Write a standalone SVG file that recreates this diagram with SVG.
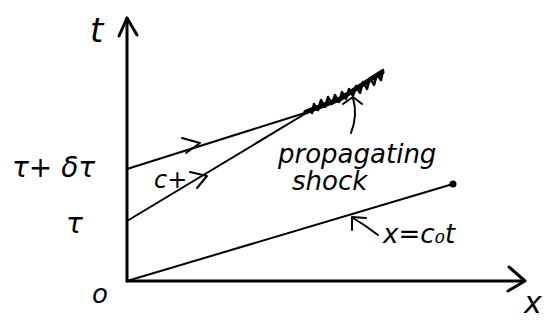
<svg xmlns="http://www.w3.org/2000/svg" width="553" height="320" viewBox="0 0 553 320">
<style>
.ax{stroke:#000;stroke-width:3;fill:none;stroke-linecap:round;stroke-linejoin:round}
.ln{stroke:#000;stroke-width:2;fill:none;stroke-linecap:round;stroke-linejoin:round}
.tx{font-family:"DejaVu Sans","Liberation Sans",sans-serif;fill:#000;font-style:italic}
</style>
<rect width="553" height="320" fill="#fff"/>
<g id="axes">
<path class="ax" d="M127,281 L127,18"/>
<path class="ax" d="M119,36 L127,18 L137,35"/>
<path class="ax" d="M127,281 L523,281"/>
<path class="ax" d="M509,267 L525,281 L508,291"/>
<text class="tx" x="90" y="42" font-size="34">t</text>
<text class="tx" x="524" y="313" font-size="30">x</text>
<text class="tx" x="92" y="303" font-size="26">o</text>
<text class="tx" x="12" y="177" font-size="28">τ+ δτ</text>
<text class="tx" x="66" y="233" font-size="28">τ</text>
</g>
<g id="connectors">
<path class="ln" d="M127,169 L308,112"/>
<path class="ln" d="M182,138 L200,143 L186,153"/>
<path class="ln" d="M127,221 L308,112"/>
<path class="ln" d="M190,172 L207,176 L197,188"/>
<path class="ln" d="M127,281 L453,184"/>
<circle cx="453" cy="184" r="3.5" fill="#000"/>
<path class="ln" d="M351,133 Q358,115 353,98"/>
<path class="ln" d="M343,104 L353,97 L362,104"/>
<path class="ln" d="M378,235 Q365,225 353,218"/>
<path class="ln" d="M352,230 L352,217 L366,218"/>
</g>
<g id="shock">
<path stroke="#000" stroke-width="5" fill="none" stroke-linecap="round" stroke-linejoin="round" d="M306,112 L340,99 L382,72"/>
<path stroke="#000" stroke-width="2.5" fill="none" stroke-linecap="round" stroke-linejoin="round" d="M312,113 L314,104 L318,110 L321,100 L325,107 L328,97 L332,104 L335,95 L339,102 L342,92 L346,99 L349,89 L353,96 L356,86 L360,93 L363,82 L367,89 L370,78 L374,85 L377,74 L381,80 L383,70"/>
</g>
<g id="labels">
<text class="tx" x="154" y="188" font-size="24">c+</text>
<text class="tx" x="278" y="163" font-size="26">propagating</text>
<text class="tx" x="292" y="190" font-size="26">shock</text>
<text class="tx" x="383" y="243" font-size="26">x=c₀t</text>
</g>
</svg>
